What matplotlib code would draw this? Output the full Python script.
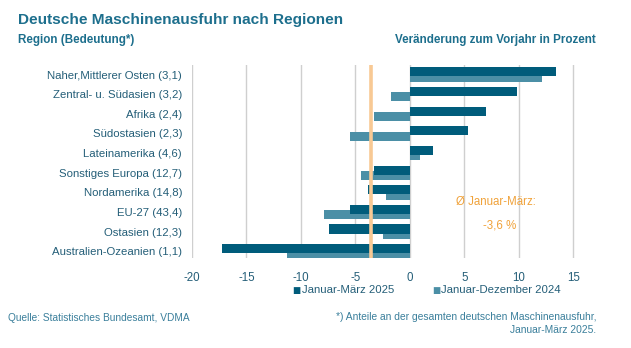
import matplotlib
matplotlib.use("Agg")
import matplotlib.pyplot as plt
import numpy as np

plt.rcParams['font.family'] = ['Liberation Sans', 'DejaVu Sans']

regions = [
    "Naher,Mittlerer Osten (3,1)",
    "Zentral- u. Südasien (3,2)",
    "Afrika (2,4)",
    "Südostasien (2,3)",
    "Lateinamerika (4,6)",
    "Sonstiges Europa (12,7)",
    "Nordamerika (14,8)",
    "EU-27 (43,4)",
    "Ostasien (12,3)",
    "Australien-Ozeanien (1,1)",
]
q1_2025 = [13.4, 9.8, 7.0, 5.3, 2.1, -3.3, -3.8, -5.5, -7.4, -17.2]
full_2024 = [12.1, -1.7, -3.3, -5.5, 0.9, -4.5, -2.2, -7.9, -2.5, -11.3]
avg_q1 = -3.6
x_ticks = [-20, -15, -10, -5, 0, 5, 10, 15]

dark = "#005C7B"
light = "#4B8FA6"
orange_line = "#F8C994"
orange_text = "#F0A23A"
text_dark = "#245E78"
text_title = "#1D6F8D"
text_note = "#3A7F9B"

fig = plt.figure(figsize=(6.31, 3.48), dpi=100)
ax = fig.add_axes([0.304, 0.259, 0.691, 0.554])

y = np.arange(len(regions))
h = 0.47
off = 0.135
ax.barh(y + off, full_2024, height=h, color=light, zorder=2)
ax.barh(y - off, q1_2025, height=h, color=dark, zorder=3)

ax.axvline(avg_q1, color=orange_line, lw=2.6, zorder=4)

ax.set_xlim(-20, 20)
ax.set_ylim(9.33, -0.48)
ax.set_xticks(x_ticks)
ax.set_xticklabels([str(t) for t in x_ticks])
ax.set_yticks(y)
ax.set_yticklabels(regions)
ax.grid(axis='x', color="#CFCFCF", lw=1.0, zorder=0)
ax.set_axisbelow(True)
for s in ax.spines.values():
    s.set_visible(False)
ax.tick_params(axis='both', length=0, colors=text_dark)
ax.tick_params(axis='y', pad=7, labelsize=8.2)
ax.tick_params(axis='x', pad=10, labelsize=8.3)

ax.text(7.9, 6.48, "Ø Januar-März:", color=orange_text, fontsize=8.3, ha='center', va='center')
ax.text(8.2, 7.7, "-3,6 %", color=orange_text, fontsize=8.3, ha='center', va='center')

fig.text(18 / 631, 1 - 20 / 348, "Deutsche Maschinenausfuhr nach Regionen",
         fontsize=11.1, fontweight='bold', color=text_title, va='center', ha='left')
fig.text(18 / 631, 1 - 40 / 348, "Region (Bedeutung*)",
         fontsize=8.4, fontweight='bold', color=text_title, va='center', ha='left')
fig.text(596 / 631, 1 - 40 / 348, "Veränderung zum Vorjahr in Prozent",
         fontsize=8.4, fontweight='bold', color=text_title, va='center', ha='right')

# legend row
fig.text(292 / 631, 1 - 290 / 348, "■", fontsize=6.2, color=dark, va='center', ha='left',
         family=['DejaVu Sans'])
fig.text(302 / 631, 1 - 290 / 348, "Januar-März 2025", fontsize=8.2, color=text_dark,
         va='center', ha='left')
fig.text(432 / 631, 1 - 290 / 348, "■", fontsize=6.2, color=light, va='center', ha='left',
         family=['DejaVu Sans'])
fig.text(441 / 631, 1 - 290 / 348, "Januar-Dezember 2024", fontsize=8.2, color=text_dark,
         va='center', ha='left')

fig.text(8 / 631, 1 - 318 / 348, "Quelle: Statistisches Bundesamt, VDMA",
         fontsize=7.3, color=text_note, va='center', ha='left')
fig.text(596 / 631, 1 - 323.5 / 348,
         "*) Anteile an der gesamten deutschen Maschinenausfuhr,\nJanuar-März 2025.",
         fontsize=7.4, color=text_note, va='center', ha='right', linespacing=1.4,
         multialignment='right')

fig.savefig("out.png", dpi=100, facecolor='white')
